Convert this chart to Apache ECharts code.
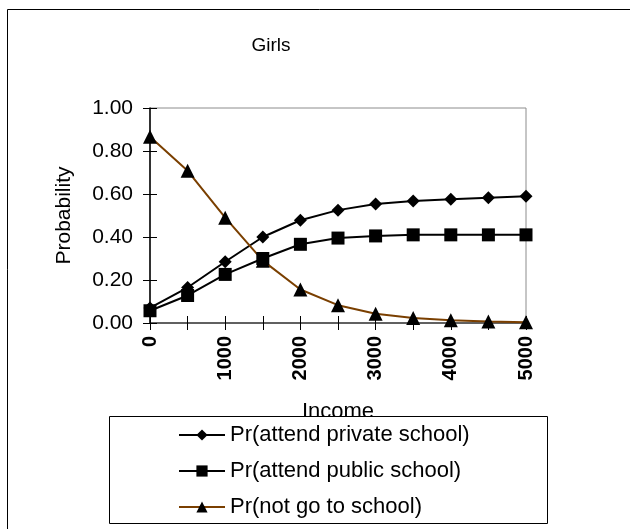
<!DOCTYPE html>
<html>
<head>
<meta charset="utf-8">
<script src="https://cdn.jsdelivr.net/npm/echarts@6/dist/echarts.min.js"></script>
<style>
  html, body { margin: 0; padding: 0; background: #fff; }
  #main { width: 630px; height: 529px; }
</style>
</head>
<body>
<div id="main"></div>
<script>
// income levels on the x axis
const incomes = ['0', '500', '1000', '1500', '2000', '2500', '3000', '3500', '4000', '4500', '5000']
// probabilities
const privateSchool = [0.07, 0.165, 0.285, 0.40, 0.478, 0.525, 0.553, 0.568, 0.576, 0.583, 0.589]
const publicSchool = [0.057, 0.128, 0.226, 0.30, 0.366, 0.395, 0.405, 0.41, 0.41, 0.41, 0.41]
const noSchool = [0.866, 0.708, 0.49, 0.29, 0.156, 0.083, 0.043, 0.023, 0.013, 0.007, 0.004]
const yTicks = [0, 0.2, 0.4, 0.6, 0.8, 1.0]

const font = "'Liberation Sans', Arial, sans-serif"
const chart = echarts.init(document.getElementById('main'))

const option = {
  animation: false,
  textStyle: { fontFamily: font },
  title: {
    text: 'Girls',
    left: 266,
    top: 31,
    textAlign: 'center',
    textStyle: { fontSize: 19, fontWeight: 'normal', color: '#000', fontFamily: font },
  },
  graphic: [
    // outer chart frame (runs off the right/bottom edge)
    {
      type: 'rect',
      shape: { x: 7.5, y: 9.5, width: 700, height: 600 },
      style: { fill: 'none', stroke: '#000', lineWidth: 1 },
      z: 0,
    },
    // legend box, covers the bottom of "Income"
    {
      type: 'rect',
      shape: { x: 109.5, y: 416.5, width: 438, height: 107 },
      style: { fill: '#fff', stroke: '#000', lineWidth: 1 },
      z: 3,
    },
  ],
  legend: {
    orient: 'vertical',
    left: 178,
    top: 424,
    padding: 0,
    itemWidth: 46,
    itemHeight: 14,
    itemGap: 14,
    itemTextGap: 2,
    z: 4,
    textStyle: { fontSize: 22, color: '#000', fontFamily: font, lineHeight: 22 },
    data: ['Pr(attend private school)', 'Pr(attend public school)', 'Pr(not go to school)'],
  },
  grid: {
    left: 150,
    right: 104,
    top: 108,
    bottom: 206,
    show: true,
    borderColor: '#8c8c8c',
    borderWidth: 1,
    backgroundColor: '#fff',
  },
  xAxis: [
    {
      type: 'category',
      data: incomes,
      boundaryGap: false,
      name: 'Income',
      nameLocation: 'middle',
      nameGap: 78,
      nameTextStyle: { fontSize: 22, color: '#000', fontFamily: font },
      axisLine: { lineStyle: { color: '#404040', width: 1.5 } },
      axisTick: { show: true, interval: 0, length: 7, lineStyle: { color: '#000' } },
      axisLabel: {
        interval: 1,
        rotate: 90,
        margin: 13,
        fontSize: 20,
        fontWeight: 'bold',
        color: '#000',
        fontFamily: font,
      },
      splitLine: { show: false },
    },
    {
      type: 'category',
      data: incomes,
      boundaryGap: false,
      position: 'bottom',
      axisLine: { show: false },
      axisTick: { show: true, inside: true, interval: 0, length: 7, lineStyle: { color: '#000' } },
      axisLabel: { show: false },
      splitLine: { show: false },
    },
  ],
  yAxis: [
    {
      type: 'value',
      min: 0,
      max: 1,
      interval: 0.2,
      name: 'Probability',
      nameLocation: 'middle',
      nameGap: 75,
      nameTextStyle: { fontSize: 21, color: '#000', fontFamily: font },
      axisLine: { show: true, lineStyle: { color: '#000', width: 1.5 } },
      axisTick: { show: true, length: 7, lineStyle: { color: '#000' } },
      axisLabel: {
        margin: 17,
        fontSize: 21,
        color: '#000',
        fontFamily: font,
        padding: [6, 0, 0, 0],
        formatter: (v) => (yTicks.includes(Math.round(v * 10) / 10) ? v.toFixed(2) : ''),
      },
      splitLine: { show: false },
    },
    {
      type: 'value',
      min: 0,
      max: 1,
      interval: 0.2,
      position: 'left',
      axisLine: { show: false },
      axisTick: { show: true, inside: true, length: 7, lineStyle: { color: '#000' } },
      axisLabel: { show: false },
      splitLine: { show: false },
    },
  ],
  series: [
    {
      name: 'Pr(attend private school)',
      type: 'line',
      data: privateSchool,
      symbol: 'diamond',
      symbolSize: 13,
      itemStyle: { color: '#000' },
      lineStyle: { color: '#000', width: 2 },
      z: 5,
    },
    {
      name: 'Pr(attend public school)',
      type: 'line',
      data: publicSchool,
      symbol: 'rect',
      symbolSize: 13,
      itemStyle: { color: '#000' },
      lineStyle: { color: '#000', width: 2 },
      z: 5,
    },
    {
      name: 'Pr(not go to school)',
      type: 'line',
      data: noSchool,
      symbol: 'triangle',
      symbolSize: 14,
      itemStyle: { color: '#000' },
      lineStyle: { color: '#7a3f00', width: 2 },
      z: 5,
    },
  ],
}

chart.setOption(option)
</script>
</body>
</html>
